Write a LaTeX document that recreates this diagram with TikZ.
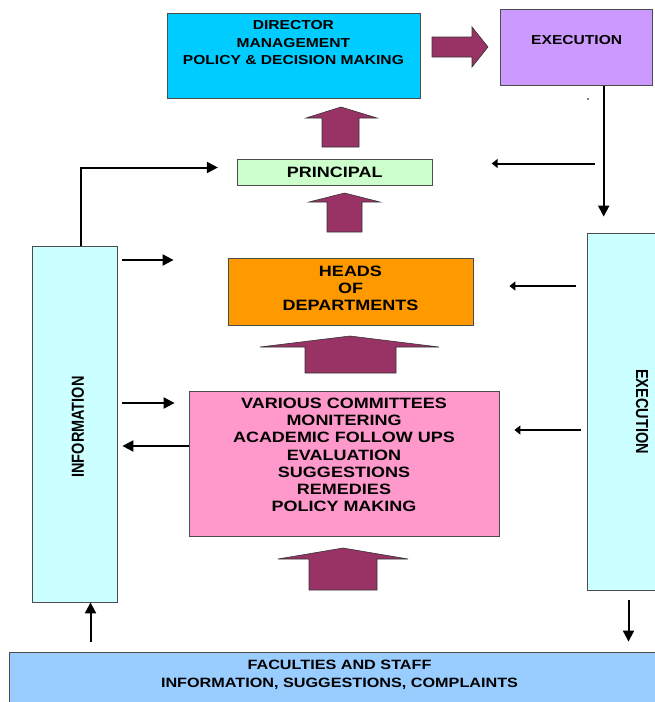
\documentclass[tikz,border=0pt]{standalone}
\usepackage{fontspec}
\usepackage{graphicx}
\setmainfont{Liberation Sans}
\newfontfamily\boxfont{Liberation Sans}[FakeStretch=1.2]
\usetikzlibrary{arrows.meta,calc}
\definecolor{dircol}{HTML}{00CCFF}
\definecolor{execol}{HTML}{CC99FF}
\definecolor{princol}{HTML}{CCFFCC}
\definecolor{headcol}{HTML}{FF9900}
\definecolor{commcol}{HTML}{FF99CC}
\definecolor{infocol}{HTML}{CCFFFF}
\definecolor{stafcol}{HTML}{99CCFF}
\definecolor{upcol}{HTML}{993366}
\tikzset{
  box/.style={draw=black!70, line width=0.8pt, inner sep=0pt},
  txt/.style={align=center, inner sep=0pt, font=\boxfont\bfseries\fontsize{15}{17.2}\selectfont},
  smalltxt/.style={align=center, inner sep=0pt, font=\boxfont\bfseries\fontsize{13}{17.5}\selectfont},
  sidetxt/.style={font=\bfseries\fontsize{14.5}{17}\selectfont},
  link/.style={line width=2pt, -{Triangle[length=11pt,width=11pt]}},
  thinlink/.style={line width=2pt, -{Triangle[length=6pt,width=9pt]}},
  bigup/.style={fill=upcol, draw=black!80, line width=0.6pt},
}
\begin{document}
\begin{tikzpicture}[x=1pt, y=-1pt]
\useasboundingbox (0,0) rectangle (655,702);
% boxes
\node[box, fill=dircol, minimum width=253pt, minimum height=85pt,
  label={[smalltxt, below=7.4pt]north:{DIRECTOR\\MANAGEMENT\\POLICY \& DECISION MAKING}}] (director) at (293.4,55.8) {};
\node[box, fill=execol, minimum width=152pt, minimum height=76pt,
  label={[smalltxt, below=26.7pt]north:{EXECUTION}}] (exectop) at (576.7,47.2) {};
\node[box, fill=princol, minimum width=195pt, minimum height=26pt, txt] (principal) at (334.8,172.5) {PRINCIPAL};
\node[box, fill=headcol, minimum width=245pt, minimum height=67pt,
  label={[txt, below=8pt]north:{HEADS\\OF\\DEPARTMENTS}}] (heads) at (350.5,291.5) {};
\node[box, fill=commcol, minimum width=310pt, minimum height=145pt,
  label={[txt, below=7.3pt]north:{VARIOUS COMMITTEES\\MONITERING\\ACADEMIC FOLLOW UPS\\EVALUATION\\SUGGESTIONS\\REMEDIES\\POLICY MAKING}}] (comm) at (344,463.5) {};
\node[box, fill=infocol, minimum width=85pt, minimum height=356pt, sidetxt,
  label={[sidetxt, xshift=3.5pt, yshift=-3pt]center:{\rotatebox{90}{\scalebox{1}[1.2]{INFORMATION}}}}] (info) at (74.5,424) {};
\node[box, fill=infocol, minimum width=110pt, minimum height=357pt, sidetxt] (execright) at (642,411.5) {\rotatebox{-90}{\scalebox{1}[1.2]{EXECUTION}}};
\node[box, fill=stafcol, minimum width=661pt, minimum height=63pt,
  label={[smalltxt, font=\boxfont\bfseries\fontsize{13.5}{17.2}\selectfont, below=8.7pt]north:{FACULTIES AND STAFF\\INFORMATION, SUGGESTIONS, COMPLAINTS}}] (staff) at (339.5,683.5) {};
\fill (588,99) circle (0.8);
% big arrows
\draw[bigup] (432,37) -- (472,37) -- (472,27) -- (488,47) -- (472,67) -- (472,57) -- (432,57) -- cycle;
\draw[bigup] (322,147) -- (322,118) -- (306,118) -- (341,107) -- (377,118) -- (359,118) -- (359,147) -- cycle;
\draw[bigup] (327,232) -- (327,202) -- (309,202) -- (344.5,193) -- (380,202) -- (362,202) -- (362,232) -- cycle;
\draw[bigup] (305,373) -- (305,347) -- (260,347) -- (350,336) -- (439,347) -- (396,347) -- (396,373) -- cycle;
\draw[bigup] (309,590) -- (309,559) -- (278,559) -- (343,548) -- (408,559) -- (377,559) -- (377,590) -- cycle;
% thin arrows
\draw[link] ($(info.north)+(6.5,0)$) |- ($(principal.west)+(-19,-5)$);
\draw[link] ($(exectop.south)+(27,0)$) -- ++(0,131);
\draw[thinlink] ($(principal.east)+(162,-9)$) -- ($(principal.east)+(59,-9)$);
\draw[link] ($(info.east |- heads.west)+(5,-31.5)$) -- ($(heads.west)+(-54,-31.5)$);
\draw[thinlink] ($(execright.west |- heads.east)+(-11,-5.5)$) -- ($(heads.east)+(36,-5.5)$);
\draw[link] ($(info.east |- comm.west)+(5,-60.5)$) -- ($(comm.west)+(-14,-60.5)$);
\draw[link] ($(comm.west)+(0,-17.5)$) -- ($(info.east |- comm.west)+(5,-17.5)$);
\draw[thinlink] ($(execright.west |- comm.east)+(-6,-33.5)$) -- ($(comm.east)+(15,-33.5)$);
\draw[link] ($(staff.north -| info.south)+(16,-10)$) -- ($(info.south)+(16,0)$);
\draw[link] ($(execright.south)+(-13.5,10)$) -- ($(staff.north -| execright.south)+(-13.5,-10)$);
\end{tikzpicture}
\end{document}
